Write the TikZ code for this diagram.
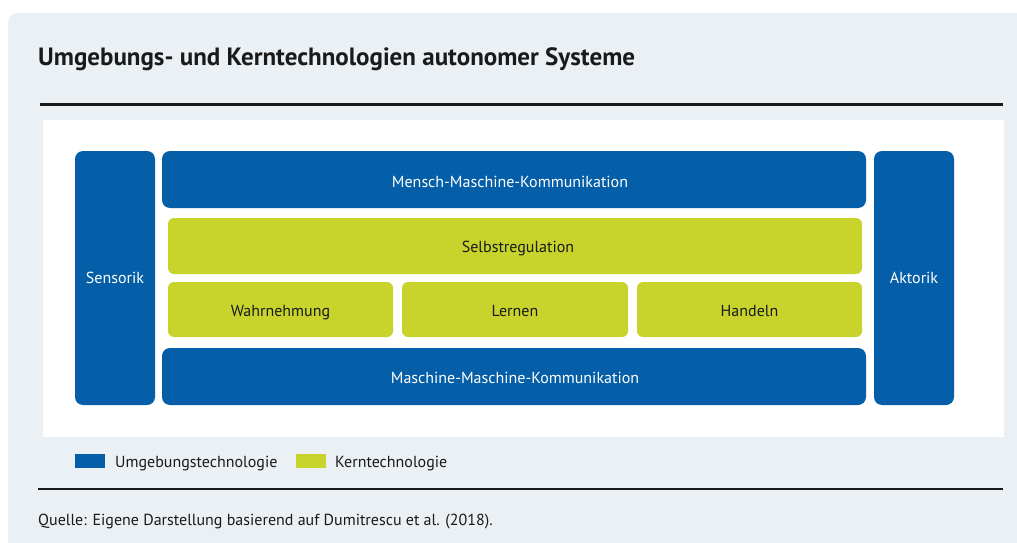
\documentclass[tikz,border=0pt]{standalone}
\usepackage{fontspec}
\setmainfont{PT Sans}
\definecolor{ublue}{HTML}{045FA8}
\definecolor{kgreen}{HTML}{C8D42C}
\definecolor{panel}{HTML}{EBF0F4}
\definecolor{ink}{HTML}{1A1A1A}
\begin{document}
\begin{tikzpicture}[x=1pt,y=-1pt,
  bluebox/.style={fill=ublue, rounded corners=8pt},
  greenbox/.style={fill=kgreen, rounded corners=6pt},
  wlabel/.style={text=white, font=\fontsize{16}{18}\selectfont, text height=11pt, text depth=3.5pt},
  glabel/.style={text=ink, font=\fontsize{16}{18}\selectfont, text height=11pt, text depth=3.5pt},
  legtext/.style={anchor=west, text=ink, font=\fontsize{16}{18}\selectfont, inner sep=0pt, text height=11pt, text depth=3.5pt}]
\useasboundingbox (0,0) rectangle (1017,543);
\fill[white] (0,0) rectangle (1017,543);
\begin{scope}
\clip (0,0) rectangle (1017,543);
\fill[panel, rounded corners=10pt] (8,13) rectangle (1040,570);
\end{scope}
% title
\node[anchor=base west, inner sep=0pt, text=ink, font=\fontsize{25}{28}\selectfont\bfseries] (title) at (38,66) {Umgebungs- und Kerntechnologien autonomer Systeme};
\coordinate (r1a) at (40,104);
\coordinate (r1b) at (1003,104);
\draw[line width=3pt, ink] (r1a) -- (r1b);
% white area
\fill[white] (43,120) rectangle (1004,437);
% boxes
\path[bluebox] (75,151) rectangle (155,405);
\node[wlabel] (sens) at (115,279.5) {Sensorik};
\path[bluebox] (874,151) rectangle (954,405);
\node[wlabel] (akt) at (914,279.5) {Aktorik};
\path[bluebox] (162,151) rectangle (866,208);
\node[wlabel] (mmk) at (510,184) {Mensch-Maschine-Kommunikation};
\path[bluebox] (162,348) rectangle (866,405);
\node[wlabel] (mmk2) at (515,380) {Maschine-Maschine-Kommunikation};
\path[greenbox] (168,218) rectangle (862,274);
\node[glabel] (selbst) at (518,249) {Selbstregulation};
\path[greenbox] (168,282) rectangle (393,337);
\node[glabel] (wahr) at (280.5,313) {Wahrnehmung};
\path[greenbox] (402,282) rectangle (628,337);
\node[glabel] (lern) at (515,313) {Lernen};
\path[greenbox] (637,282) rectangle (862,337);
\node[glabel] (hand) at (749.5,313) {Handeln};
% legend
\fill[ublue] (75,454) rectangle (105,468);
\node[legtext] (l1) at (115,464) {Umgebungstechnologie};
\fill[kgreen] (296,454) rectangle (326,468);
\node[legtext] (l2) at (335,464) {Kerntechnologie};
\coordinate (r2a) at (38,489);
\coordinate (r2b) at (1003,489);
\draw[line width=1.2pt, ink] (r2a) -- (r2b);
\node[anchor=base west, inner sep=0pt, text=ink, font=\fontsize{16}{18}\selectfont] (src) at (38,525) {Quelle: Eigene Darstellung basierend auf Dumitrescu et al. (2018).};
\end{tikzpicture}
\end{document}
